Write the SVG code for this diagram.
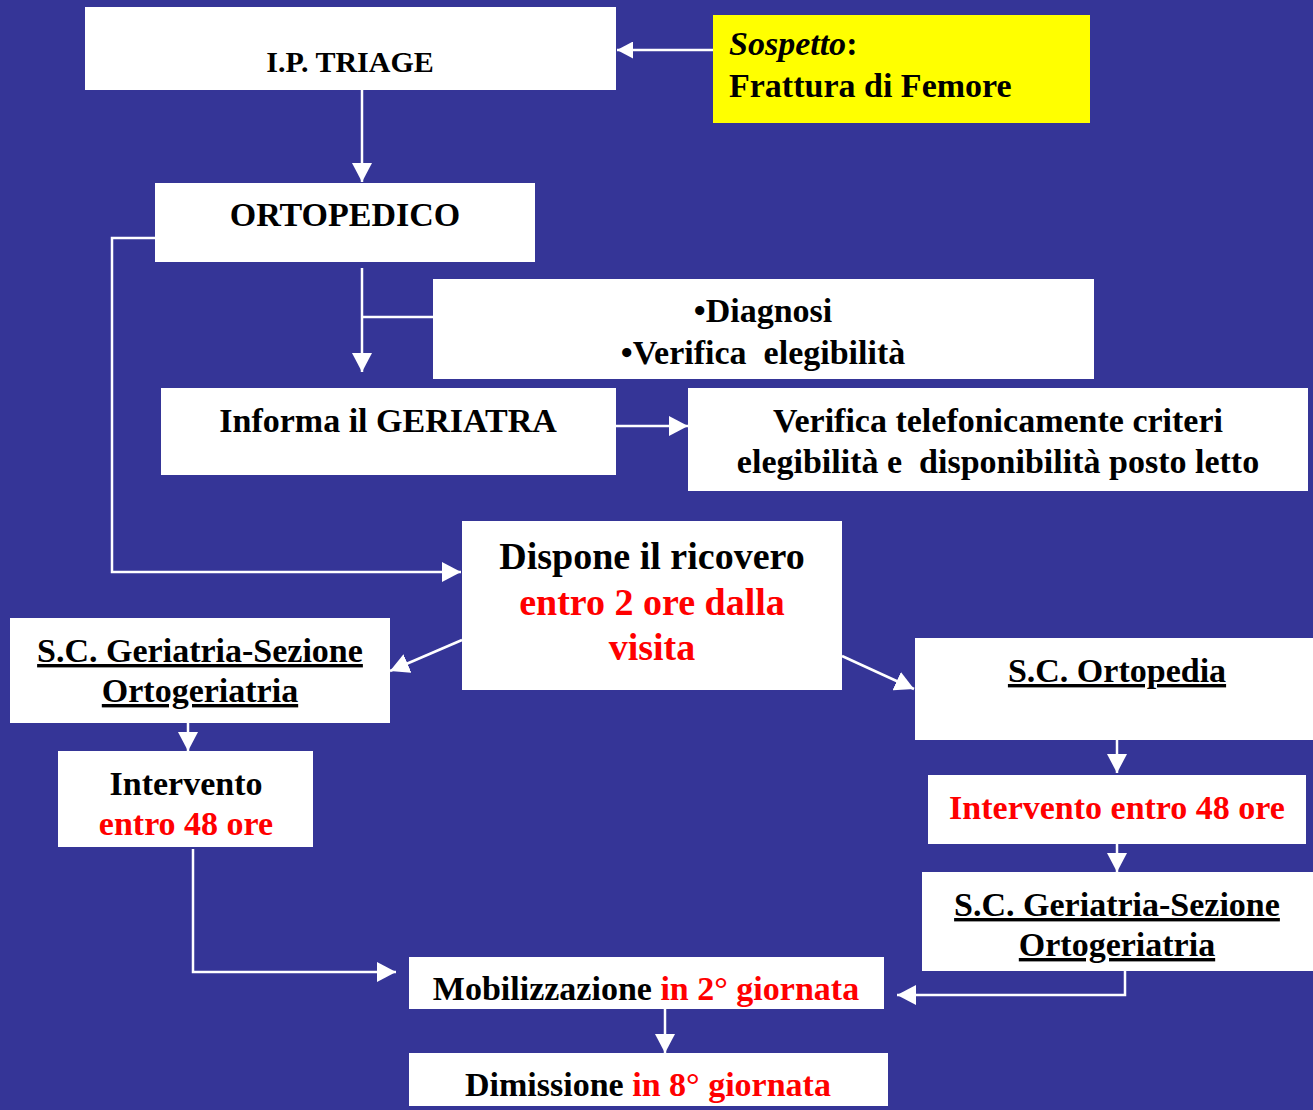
<svg xmlns="http://www.w3.org/2000/svg" width="1313" height="1110" viewBox="0 0 1313 1110">
<style>
.box{fill:#ffffff}
.t{font-family:"Liberation Serif","Times New Roman",serif;font-weight:bold;font-size:34px;fill:#000000;text-anchor:middle}
.r{fill:#ff0000}
.u{text-decoration:underline}
.c{fill:none;stroke:#ffffff;stroke-width:2.5}
</style>
<defs>
<marker id="ah" markerUnits="userSpaceOnUse" markerWidth="20" markerHeight="20" refX="19" refY="10" orient="auto">
<path d="M0,0 L19,10 L0,20 z" fill="#ffffff"/>
</marker>
<marker id="ahs" markerUnits="userSpaceOnUse" markerWidth="17" markerHeight="17" refX="16" refY="8.5" orient="auto">
<path d="M0,0 L16,8.5 L0,17 z" fill="#ffffff"/>
</marker>
</defs>
<rect x="0" y="0" width="1313" height="1110" fill="#353597"/>

<g id="connectors">
<line class="c" x1="713" y1="50" x2="617" y2="50" marker-end="url(#ahs)"/>
<line class="c" x1="362" y1="90" x2="362" y2="182" marker-end="url(#ah)"/>
<polyline class="c" points="155,238 112,238 112,572 461,572" marker-end="url(#ah)"/>
<line class="c" x1="362" y1="268" x2="362" y2="372" marker-end="url(#ah)"/>
<line class="c" x1="362" y1="317" x2="433" y2="317"/>
<line class="c" x1="616" y1="426" x2="688" y2="426" marker-end="url(#ah)"/>
<line class="c" x1="462" y1="640" x2="390" y2="671" marker-end="url(#ah)"/>
<line class="c" x1="842" y1="656" x2="914" y2="689" marker-end="url(#ah)"/>
<line class="c" x1="188" y1="723" x2="188" y2="751" marker-end="url(#ah)"/>
<polyline class="c" points="193,849 193,972 396,972" marker-end="url(#ah)"/>
<line class="c" x1="665" y1="1009" x2="665" y2="1053" marker-end="url(#ah)"/>
<line class="c" x1="1117" y1="740" x2="1117" y2="773" marker-end="url(#ah)"/>
<line class="c" x1="1117" y1="844" x2="1117" y2="872" marker-end="url(#ah)"/>
<polyline class="c" points="1125,971 1125,995 897,995" marker-end="url(#ah)"/>
</g>

<g id="triage">
<rect class="box" x="85" y="7" width="531" height="83"/>
<text class="t" x="350" y="72" style="font-size:30px">I.P. TRIAGE</text>
</g>

<g id="sospetto">
<rect x="713" y="15" width="377" height="108" fill="#ffff00"/>
<text class="t" x="729" y="55" style="text-anchor:start"><tspan font-style="italic">Sospetto</tspan>:</text>
<text class="t" x="729" y="97" style="text-anchor:start">Frattura di Femore</text>
</g>

<g id="ortopedico">
<rect class="box" x="155" y="183" width="380" height="79"/>
<text class="t" x="345" y="226">ORTOPEDICO</text>
</g>

<g id="diagnosi">
<rect class="box" x="433" y="279" width="661" height="100"/>
<text class="t" x="763" y="322">•Diagnosi</text>
<text class="t" x="763" y="364" style="white-space:pre">•Verifica  elegibilità</text>
</g>

<g id="informa">
<rect class="box" x="161" y="388" width="455" height="87"/>
<text class="t" x="388" y="432">Informa il GERIATRA</text>
</g>

<g id="verifica">
<rect class="box" x="688" y="388" width="620" height="103"/>
<text class="t" x="998" y="432">Verifica telefonicamente criteri</text>
<text class="t" x="998" y="473" style="white-space:pre">elegibilità e  disponibilità posto letto</text>
</g>

<g id="dispone">
<rect class="box" x="462" y="521" width="380" height="169"/>
<text class="t" x="652" y="569" style="font-size:38px">Dispone il ricovero</text>
<text class="t r" x="652" y="615" style="font-size:38px">entro 2 ore dalla</text>
<text class="t r" x="652" y="660" style="font-size:38px">visita</text>
</g>

<g id="geriatria-left">
<rect class="box" x="10" y="618" width="380" height="105"/>
<text class="t u" x="200" y="662">S.C. Geriatria-Sezione</text>
<text class="t u" x="200" y="702">Ortogeriatria</text>
</g>

<g id="intervento-left">
<rect class="box" x="58" y="751" width="255" height="96"/>
<text class="t" x="186" y="795">Intervento</text>
<text class="t r" x="186" y="835">entro 48 ore</text>
</g>

<g id="ortopedia">
<rect class="box" x="915" y="638" width="405" height="102"/>
<text class="t u" x="1117" y="682">S.C. Ortopedia</text>
</g>

<g id="intervento-right">
<rect class="box" x="928" y="775" width="378" height="69"/>
<text class="t r" x="1117" y="819">Intervento entro 48 ore</text>
</g>

<g id="geriatria-right">
<rect class="box" x="922" y="872" width="391" height="99"/>
<text class="t u" x="1117" y="916">S.C. Geriatria-Sezione</text>
<text class="t u" x="1117" y="956">Ortogeriatria</text>
</g>

<g id="mobilizzazione">
<rect class="box" x="409" y="957" width="475" height="52"/>
<text class="t" x="646" y="1000">Mobilizzazione <tspan class="r">in 2° giornata</tspan></text>
</g>

<g id="dimissione">
<rect class="box" x="409" y="1053" width="479" height="53"/>
<text class="t" x="648" y="1096">Dimissione <tspan class="r">in 8° giornata</tspan></text>
</g>
</svg>
